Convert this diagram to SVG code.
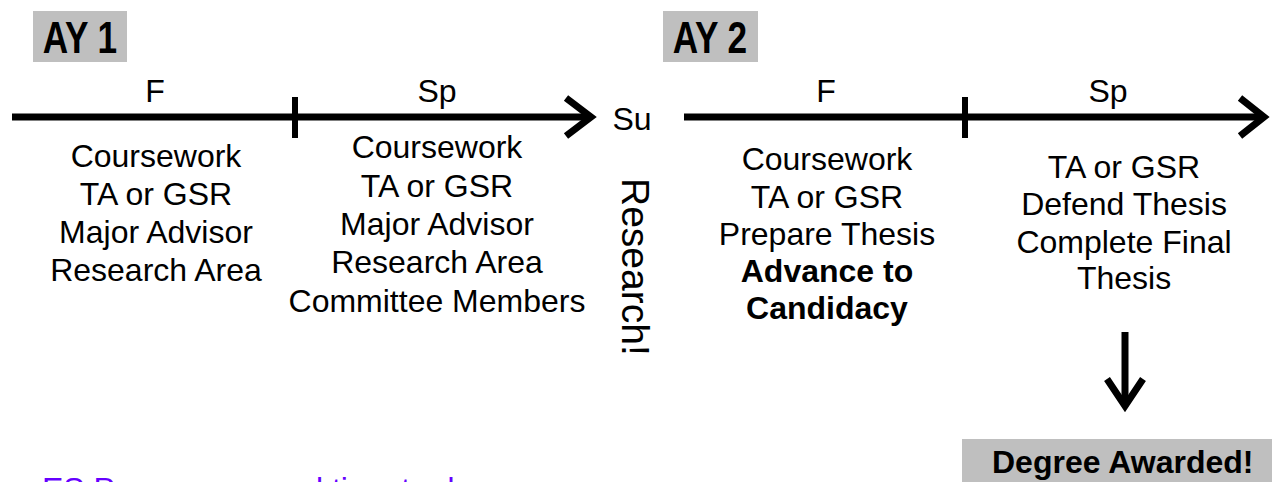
<svg xmlns="http://www.w3.org/2000/svg" width="1272" height="482" viewBox="0 0 1272 482">
<style>
  text { font-family: "Liberation Sans", Arial, sans-serif; fill: #000; }
  .t { font-size: 32px; text-anchor: middle; }
  .b { font-weight: bold; }
  .ay { font-size: 44px; font-weight: bold; text-anchor: middle; }
  .box { fill: #BFBFBF; }
  .ln { stroke: #000; stroke-width: 7; fill: none; }
  .tick { stroke: #000; stroke-width: 6; }
</style>
<rect width="1272" height="482" fill="#fff"/>
<g id="ay1">
  <rect class="box" x="33" y="11" width="94" height="51"/>
  <text class="ay" transform="translate(80,53) scale(0.8,1)">AY 1</text>
</g>
<g id="ay2">
  <rect class="box" x="663" y="11" width="95" height="51"/>
  <text class="ay" transform="translate(710,53) scale(0.8,1)">AY 2</text>
</g>
<g id="connectors">
  <line class="ln" x1="12" y1="117" x2="589" y2="117"/>
  <polyline class="ln" points="566,98 591,117 566,136"/>
  <line class="tick" x1="295" y1="97" x2="295" y2="138"/>
  <line class="ln" x1="684" y1="117" x2="1261" y2="117"/>
  <polyline class="ln" points="1240,98 1264,117 1240,136"/>
  <line class="tick" x1="965" y1="97" x2="965" y2="138"/>
  <line class="ln" x1="1125" y1="332" x2="1125" y2="404"/>
  <polyline class="ln" points="1107,379 1125,406 1143,379"/>
</g>
<g id="labels">
  <text class="t" x="155" y="102">F</text>
  <text class="t" x="437" y="102">Sp</text>
  <text class="t" x="632" y="130">Su</text>
  <text class="t" x="826" y="102">F</text>
  <text class="t" x="1108" y="102">Sp</text>
</g>
<g id="ay1-fall">
  <text class="t" x="156" y="167">Coursework</text>
  <text class="t" x="156" y="205">TA or GSR</text>
  <text class="t" x="156" y="243">Major Advisor</text>
  <text class="t" x="156" y="281">Research Area</text>
</g>
<g id="ay1-spring">
  <text class="t" x="437" y="158">Coursework</text>
  <text class="t" x="437" y="197">TA or GSR</text>
  <text class="t" x="437" y="235">Major Advisor</text>
  <text class="t" x="437" y="273">Research Area</text>
  <text class="t" x="437" y="312">Committee Members</text>
</g>
<g id="summer">
  <text font-size="39" transform="translate(622,178) rotate(90)">Research!</text>
</g>
<g id="ay2-fall">
  <text class="t" x="827" y="170">Coursework</text>
  <text class="t" x="827" y="208">TA or GSR</text>
  <text class="t" x="827" y="245">Prepare Thesis</text>
  <text class="t b" x="827" y="282">Advance to</text>
  <text class="t b" x="827" y="319">Candidacy</text>
</g>
<g id="ay2-spring">
  <text class="t" x="1124" y="178">TA or GSR</text>
  <text class="t" x="1124" y="215">Defend Thesis</text>
  <text class="t" x="1124" y="253">Complete Final</text>
  <text class="t" x="1124" y="289">Thesis</text>
</g>
<g id="degree">
  <rect class="box" x="962" y="439" width="320" height="50"/>
  <text class="b" font-size="32" x="992" y="473">Degree Awarded!</text>
</g>
<g id="note">
  <text font-size="32" x="42" y="500" style="fill:#6600FF">ES Program normal time to degree</text>
</g>
</svg>
